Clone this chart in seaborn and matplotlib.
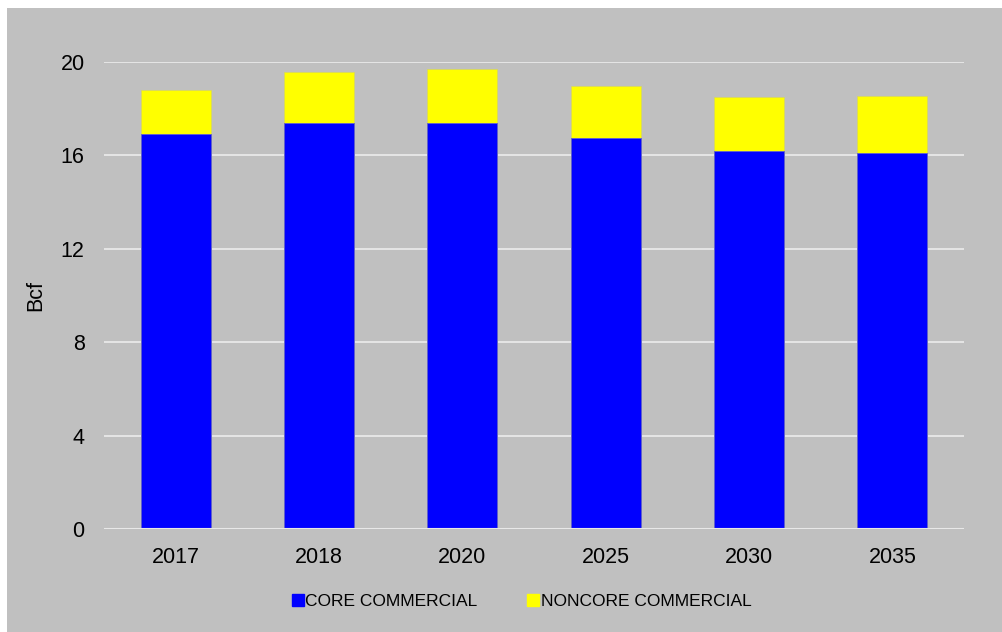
import matplotlib
matplotlib.use("Agg")
import matplotlib.pyplot as plt
from matplotlib.patches import Rectangle
from matplotlib.lines import Line2D
import seaborn as sns
import pandas as pd

years = ["2017", "2018", "2020", "2025", "2030", "2035"]
core = [16.89, 17.39, 17.39, 16.72, 16.18, 16.08]
noncore = [1.91, 2.18, 2.28, 2.25, 2.30, 2.45]
series_names = ["CORE COMMERCIAL", "NONCORE COMMERCIAL"]
yticks = [0, 4, 8, 12, 16, 20]

df = pd.DataFrame({"year": years, "core": core, "noncore": noncore})
df["total"] = df["core"] + df["noncore"]

sns.set_theme(style="white")
plt.rcParams["font.family"] = ["Liberation Sans", "DejaVu Sans"]

BG = "#C0C0C0"
fig = plt.figure(figsize=(10.03, 6.32), dpi=100, facecolor="white")
bg = Rectangle((7 / 1003, 0), 1, 1 - 8 / 632, transform=fig.transFigure,
               facecolor=BG, edgecolor="none", zorder=-10)
fig.patches.append(bg)
ax = fig.add_axes([104 / 1003, 1 - 529.3 / 632, 860 / 1003, 467.6 / 632])
ax.set_facecolor(BG)

sns.barplot(data=df, x="year", y="total", color="#FFFF00", width=0.49,
            edgecolor="#D8D860", linewidth=0.6, saturation=1, ax=ax, zorder=3)
sns.barplot(data=df, x="year", y="core", color="#0000FF", width=0.49,
            edgecolor="#6060D0", linewidth=0.6, saturation=1, ax=ax, zorder=4)

ax.set_ylim(0, 20)
ax.set_xlim(-0.5, 5.5)
ax.set_yticks(yticks)
ax.set_yticklabels([str(t) for t in yticks])
ax.grid(axis="y", color="#E8E8E8", linewidth=1.3, zorder=1)
ax.set_axisbelow(True)
for s in ax.spines.values():
    s.set_visible(False)
ax.axhline(0, color="#E8E8E8", linewidth=1.5, zorder=5)
ax.tick_params(axis="both", length=0, labelsize=15.5, colors="#000000")
ax.tick_params(axis="x", pad=13)
ax.tick_params(axis="y", pad=14)
ax.set_xlabel("")
ax.set_ylabel("Bcf", fontsize=15.5, color="#000000", labelpad=10)

handles = [Line2D([], [], marker="s", linestyle="none", markersize=9,
                  markerfacecolor=c, markeredgecolor=c)
           for c in ["#0000FF", "#FFFF00"]]
leg = fig.legend(handles, series_names, loc="center", bbox_to_anchor=(522 / 1003, 1 - 601 / 632),
                 ncol=2, frameon=False, fontsize=12.5, handlelength=0.6, handletextpad=0.15,
                 columnspacing=2.9, labelcolor="#000000")

fig.savefig("out.png", dpi=100, facecolor="white")
